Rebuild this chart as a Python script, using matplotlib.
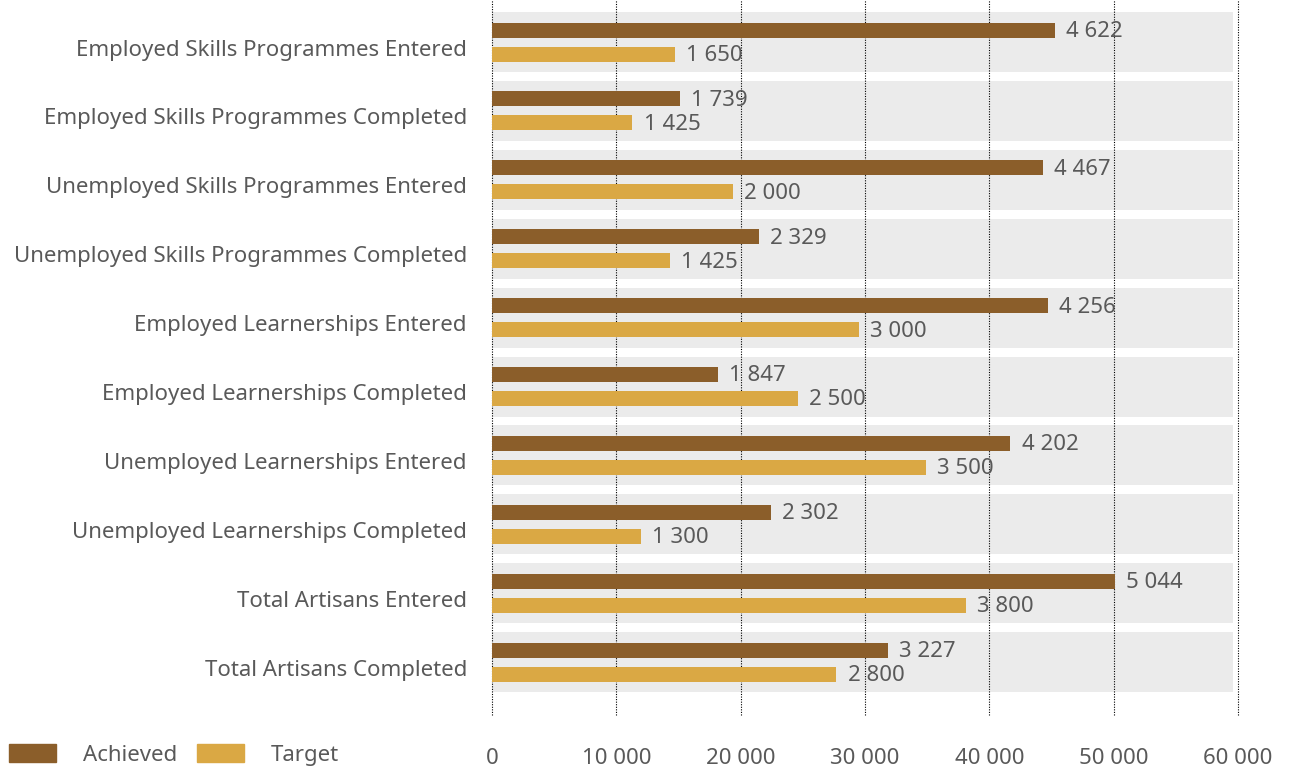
import matplotlib.pyplot as plt
from matplotlib.patches import Patch

categories = [
    "Employed Skills Programmes Entered",
    "Employed Skills Programmes Completed",
    "Unemployed Skills Programmes Entered",
    "Unemployed Skills Programmes Completed",
    "Employed Learnerships Entered",
    "Employed Learnerships Completed",
    "Unemployed Learnerships Entered",
    "Unemployed Learnerships Completed",
    "Total Artisans Entered",
    "Total Artisans Completed",
]
# bar lengths as drawn on the axis
achieved = [45300, 15100, 44300, 21500, 44700, 18200, 41700, 22400, 50100, 31850]
target = [14700, 11300, 19400, 14300, 29500, 24600, 34900, 12000, 38100, 27700]
# data labels as printed on the chart
achieved_labels = ["4 622", "1 739", "4 467", "2 329", "4 256", "1 847", "4 202", "2 302", "5 044", "3 227"]
target_labels = ["1 650", "1 425", "2 000", "1 425", "3 000", "2 500", "3 500", "1 300", "3 800", "2 800"]
xticks = [0, 10000, 20000, 30000, 40000, 50000, 60000]

C_ACH = "#8B5E2A"
C_TGT = "#DAA844"
TXT = "#595959"
FS = 16
plt.rcParams["font.family"] = ["Noto Sans", "DejaVu Sans"]

fig = plt.figure(figsize=(12.91, 7.70), dpi=100)
ax = fig.add_axes([492 / 1291, 1 - 715 / 770, (1238 - 492) / 1291, 715 / 770])

off = 12 / 68.9
h = 15 / 68.9
for i in range(len(categories)):
    ax.axhspan(i - 0.435, i + 0.435, xmin=0, xmax=0.993, color="#EBEBEB", lw=0, zorder=0)

ys = list(range(len(categories)))
ax.barh([y - off for y in ys], achieved, height=h, color=C_ACH, zorder=3)
ax.barh([y + off for y in ys], target, height=h, color=C_TGT, zorder=3)

for y, v, s in zip(ys, achieved, achieved_labels):
    ax.annotate(s, (v, y - off + 0.02), xytext=(8, 0), textcoords="offset points",
                va="center", ha="left", fontsize=FS, color=TXT, zorder=4)
for y, v, s in zip(ys, target, target_labels):
    ax.annotate(s, (v, y + off + 0.02), xytext=(8, 0), textcoords="offset points",
                va="center", ha="left", fontsize=FS, color=TXT, zorder=4)

ax.set_xlim(0, 60000)
ax.set_ylim(-0.61 + 715 / 68.9, -0.61)
ax.set_xticks(xticks)
ax.set_xticklabels([f"{t:,}".replace(",", " ") for t in xticks], fontsize=FS, color=TXT)
ax.set_yticks([y + 0.08 for y in ys])
ax.set_yticklabels(categories, fontsize=FS, color=TXT)
ax.tick_params(axis="both", length=0)
ax.tick_params(axis="x", pad=24)
ax.tick_params(axis="y", pad=18)
for sp in ax.spines.values():
    sp.set_visible(False)
ax.grid(axis="x", color="black", linestyle=(0, (1, 1.3)), linewidth=0.8, zorder=1)
ax.set_axisbelow(False)
for line in ax.get_xgridlines():
    line.set_zorder(1)
    line.set_clip_on(False)

handles = [Patch(color=C_ACH, label="Achieved"), Patch(color=C_TGT, label="Target")]
fig.legend(handles=handles, loc="lower left", bbox_to_anchor=(-0.003, -0.012), ncol=2,
           frameon=False, fontsize=FS, handlelength=2.1, handleheight=0.85,
           handletextpad=1.2, columnspacing=0.9, labelcolor=TXT, borderaxespad=0.2)

fig.savefig("out.png", dpi=100)
